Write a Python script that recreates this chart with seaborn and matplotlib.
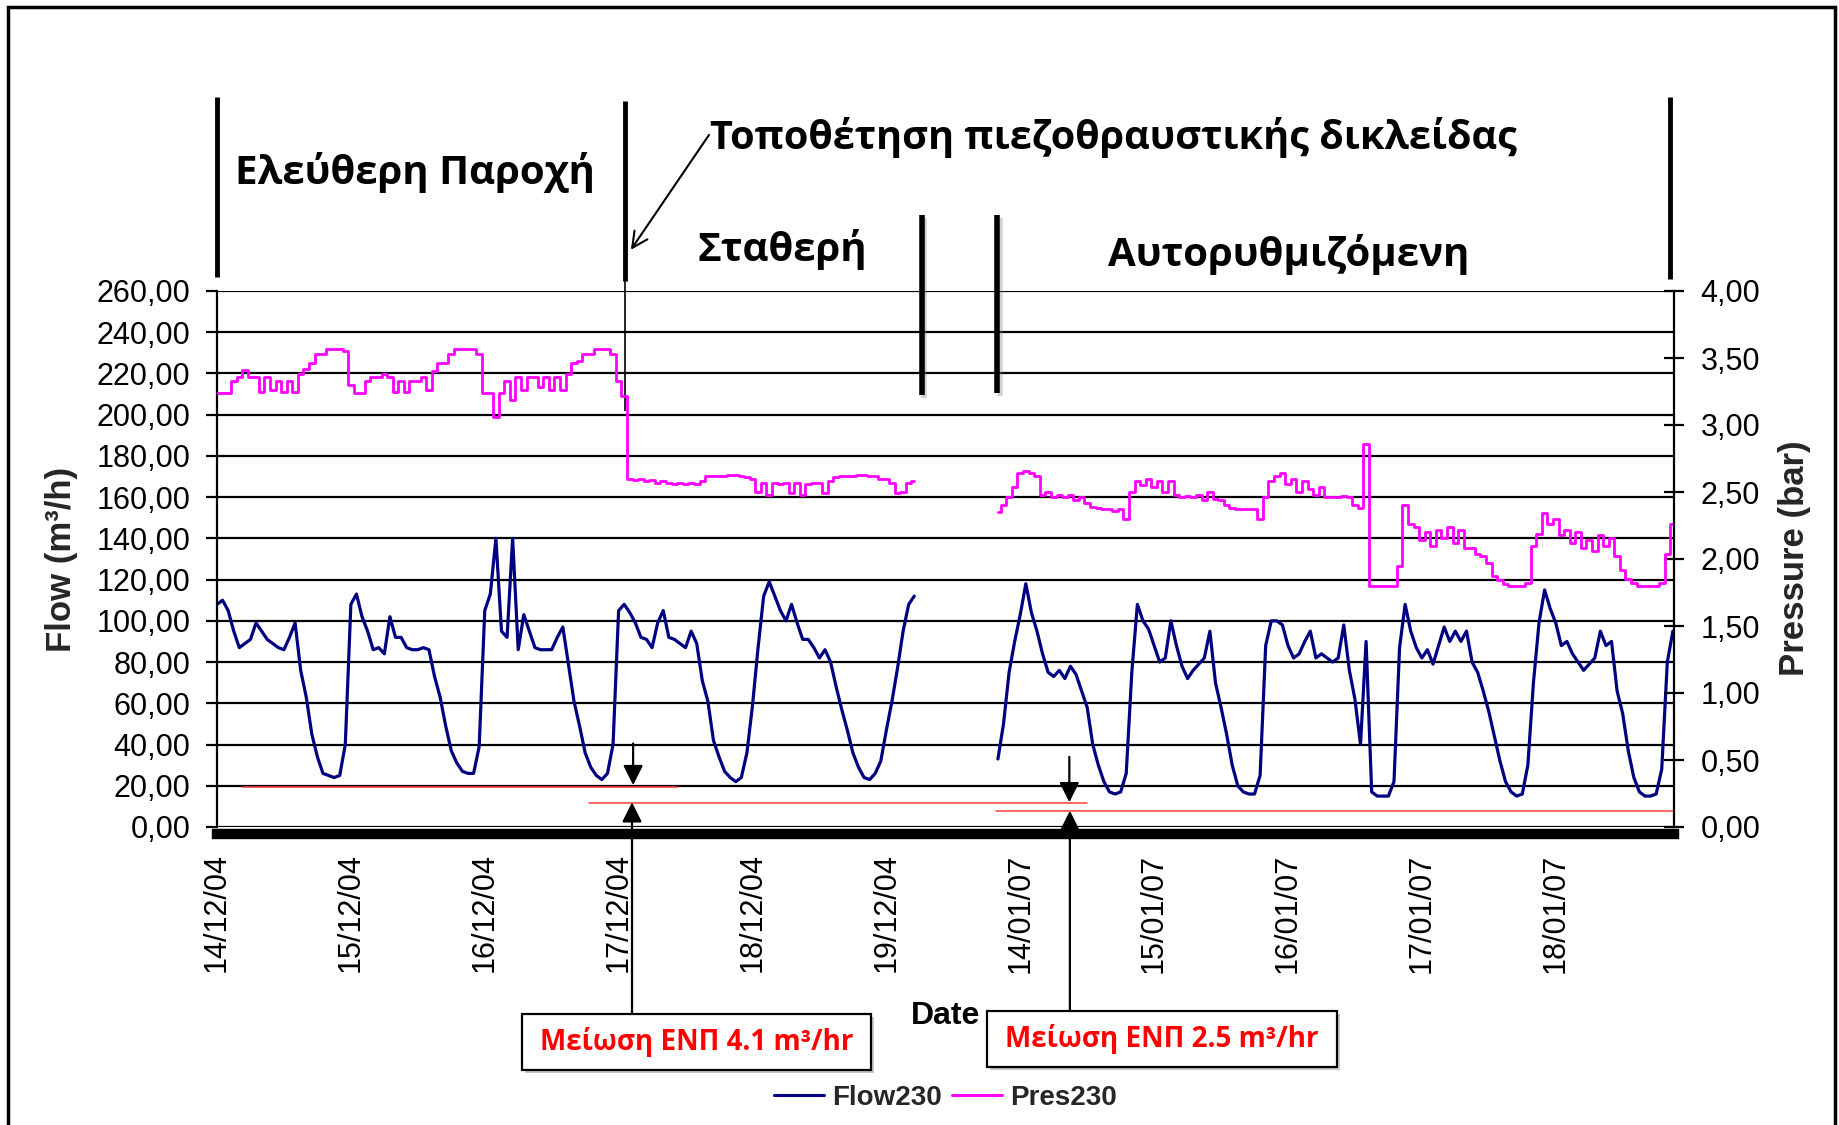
import matplotlib
matplotlib.use("Agg")
import matplotlib.pyplot as plt
import matplotlib.patheffects as pe
from matplotlib.patches import Rectangle
from matplotlib.lines import Line2D
import numpy as np
import pandas as pd
import seaborn as sns

# ---------------- data (hourly readings) ----------------
date_labels = ["14/12/04", "15/12/04", "16/12/04", "17/12/04", "18/12/04", "19/12/04",
               "14/01/07", "15/01/07", "16/01/07", "17/01/07", "18/01/07"]
date_tick_hours = [0, 24, 48, 72, 96, 120, 144, 168, 192, 216, 240]

dec_start_hour = 0
jan_start_hour = 140

flow_dec = [108, 110, 105, 95, 87, 89, 91, 99, 95, 91, 89, 87, 86, 92, 99, 76, 63, 45, 34, 26, 25, 24, 25, 40,
            108, 113, 102, 95, 86, 87, 84, 102, 92, 92, 87, 86, 86, 87, 86, 73, 63, 49, 37, 31, 27, 26, 26, 39,
            105, 113, 140, 95, 92, 140, 86, 103, 95, 87, 86, 86, 86, 92, 97, 79, 61, 49, 36, 29, 25, 23, 26, 40,
            105, 108, 104, 99, 92, 91, 87, 99, 105, 92, 91, 89, 87, 95, 89, 71, 61, 42, 34, 27, 24, 22, 24, 36,
            59, 87, 112, 119, 112, 105, 100, 108, 99, 91, 91, 87, 82, 86, 80, 68, 57, 47, 36, 29, 24, 23, 26, 32,
            47, 61, 77, 95, 108, 112]

pres_dec = [3.24, 3.24, 3.24, 3.33, 3.36, 3.41, 3.36, 3.36, 3.25, 3.36, 3.26, 3.33, 3.25, 3.33, 3.25, 3.38,
            3.42, 3.46, 3.53, 3.53, 3.57, 3.57, 3.57, 3.55,
            3.30, 3.24, 3.24, 3.33, 3.36, 3.36, 3.38, 3.36, 3.25, 3.33, 3.25, 3.33, 3.33, 3.36, 3.26, 3.40,
            3.46, 3.46, 3.53, 3.57, 3.57, 3.57, 3.57, 3.53,
            3.24, 3.24, 3.06, 3.24, 3.33, 3.19, 3.36, 3.26, 3.36, 3.36, 3.28, 3.36, 3.26, 3.36, 3.26, 3.38,
            3.46, 3.48, 3.53, 3.53, 3.57, 3.57, 3.57, 3.53,
            3.33, 3.22, 2.60, 2.59, 2.60, 2.58, 2.59, 2.57, 2.58, 2.57, 2.56, 2.57, 2.56, 2.57, 2.56, 2.58,
            2.62, 2.62, 2.62, 2.62, 2.63, 2.63, 2.62, 2.61,
            2.60, 2.50, 2.57, 2.48, 2.57, 2.56, 2.57, 2.49, 2.57, 2.48, 2.56, 2.57, 2.57, 2.49, 2.58, 2.61,
            2.62, 2.62, 2.62, 2.63, 2.63, 2.62, 2.62, 2.60,
            2.60, 2.57, 2.49, 2.50, 2.57, 2.58]

flow_jan = [33, 50, 75, 90, 103, 118, 104, 95, 84, 75, 73, 76, 72, 78, 74, 66, 58, 40, 30, 22, 17, 16, 17, 26,
            75, 108, 100, 96, 88, 80, 82, 100, 88, 78, 72, 76, 79, 82, 95, 70, 58, 45, 30, 20, 17, 16, 16, 25,
            88, 100, 100, 98, 88, 82, 84, 90, 95, 82, 84, 82, 80, 82, 98, 76, 62, 40, 90, 17, 15, 15, 15, 22,
            87, 108, 95, 87, 82, 86, 79, 88, 97, 90, 95, 90, 95, 80, 75, 66, 56, 44, 32, 22, 17, 15, 16, 30,
            70, 99, 115, 106, 99, 88, 90, 84, 80, 76, 79, 82, 95, 88, 90, 66, 55, 37, 24, 17, 15, 15, 16, 28,
            80, 95]

pres_jan = [2.35, 2.40, 2.46, 2.54, 2.64, 2.66, 2.64, 2.62, 2.48, 2.50, 2.46, 2.48, 2.46, 2.48, 2.44, 2.46,
            2.42, 2.39, 2.38, 2.37, 2.37, 2.36, 2.37, 2.30,
            2.50, 2.58, 2.55, 2.60, 2.54, 2.58, 2.50, 2.58, 2.48, 2.46, 2.47, 2.46, 2.48, 2.44, 2.50, 2.45,
            2.44, 2.40, 2.38, 2.37, 2.37, 2.37, 2.37, 2.30,
            2.46, 2.58, 2.62, 2.64, 2.56, 2.60, 2.50, 2.58, 2.52, 2.48, 2.54, 2.46, 2.46, 2.46, 2.47, 2.46,
            2.40, 2.38, 2.86, 1.80, 1.80, 1.80, 1.80, 1.80,
            1.95, 2.40, 2.26, 2.24, 2.14, 2.20, 2.10, 2.22, 2.16, 2.24, 2.12, 2.22, 2.08, 2.08, 2.04, 2.02,
            1.97, 1.87, 1.84, 1.81, 1.80, 1.80, 1.80, 1.82,
            2.10, 2.19, 2.34, 2.26, 2.30, 2.18, 2.22, 2.12, 2.20, 2.08, 2.14, 2.06, 2.18, 2.10, 2.16, 2.02,
            1.92, 1.85, 1.82, 1.80, 1.80, 1.80, 1.80, 1.82,
            2.04, 2.26]

flow_ticks = list(range(0, 261, 20))
pres_ticks = [0.0, 0.5, 1.0, 1.5, 2.0, 2.5, 3.0, 3.5, 4.0]

# reference (ΕΝΠ) levels: start hour, end hour, flow level
red_line_start = [4.4, 66.6, 139.7]
red_line_end = [82.7, 155.9, 261.2]
red_line_level = [19.5, 11.7, 7.7]

x_max_hour = 261.2

# ---------------- build tables ----------------
dec = pd.DataFrame({"hour": np.arange(len(flow_dec)) + dec_start_hour,
                    "flow": flow_dec, "pres": pres_dec})
jan = pd.DataFrame({"hour": np.arange(len(flow_jan)) + jan_start_hour,
                    "flow": flow_jan, "pres": pres_jan})

sns.set_style("white")
plt.rcParams["font.family"] = ["Liberation Sans", "DejaVu Sans"]
greek_font = ["Open Sans", "DejaVu Sans"]

W, H = 1839, 1125
fig = plt.figure(figsize=(W / 100, H / 100), dpi=100)
ax = fig.add_axes([217 / W, 1 - 827 / H, (1674 - 217) / W, (827 - 291) / H])
ax2 = ax.twinx()

navy = "#000080"
magenta = "#FF00FF"

for seg in (dec, jan):
    sns.lineplot(data=seg, x="hour", y="flow", ax=ax, color=navy, linewidth=2.3,
                 estimator=None, sort=False, legend=False)
    sns.lineplot(data=seg, x="hour", y="pres", ax=ax2, color=magenta, linewidth=2.0,
                 estimator=None, sort=False, legend=False, drawstyle="steps-mid")

# red reference lines
for x0, x1, lv in zip(red_line_start, red_line_end, red_line_level):
    ax.plot([x0, x1], [lv, lv], color="#FF3B3B", linewidth=1.1, clip_on=False, zorder=3)

# ---------------- axes styling ----------------
ax.set_xlim(0, x_max_hour)
ax.set_ylim(0, 260)
ax2.set_ylim(0, 4)
ax.set_yticks(flow_ticks)
ax.set_yticklabels([f"{v:.2f}".replace(".", ",") for v in flow_ticks])
ax2.set_yticks(pres_ticks)
ax2.set_yticklabels([f"{v:.2f}".replace(".", ",") for v in pres_ticks])
ax.set_xticks(date_tick_hours)
ax.set_xticklabels(date_labels)

ax.grid(axis="y", color="black", linewidth=1.6)
ax.grid(axis="x", visible=False)
ax.set_axisbelow(True)
ax2.grid(False)

for s in ("top", "right"):
    ax.spines[s].set_visible(False)
ax.spines["left"].set_color("black")
ax.spines["left"].set_linewidth(1.6)
ax.spines["bottom"].set_color("black")
ax.spines["bottom"].set_linewidth(7.5)
ax.spines["bottom"].set_position(("outward", 5))
for s in ("top", "left", "bottom"):
    ax2.spines[s].set_visible(False)
ax2.spines["right"].set_color("black")
ax2.spines["right"].set_linewidth(1.6)

ax.tick_params(axis="y", direction="out", length=8, width=1.6, pad=11, labelsize=22,
               colors="black", left=True)
ax2.tick_params(axis="y", direction="inout", length=14, width=1.6, pad=12, labelsize=22,
                colors="black", right=True)
ax.tick_params(axis="x", length=0, pad=14, labelsize=22, colors="black", labelrotation=90)

ax.set_xlabel("Date", fontsize=23, fontweight="bold", color="black")
ax.xaxis.set_label_coords(0.5, -0.325)
ax.set_ylabel("")
ax2.set_ylabel("")
ax.text(-0.107, 0.5, "Flow (m³/h)", transform=ax.transAxes, rotation=90,
        ha="center", va="center", fontsize=25, fontweight="bold")
ax.text(1.0824, 0.502, "Pressure (bar)", transform=ax.transAxes, rotation=90,
        ha="center", va="center", fontsize=25, fontweight="bold")

# ---------------- annotations ----------------
shadow = [pe.SimpleLineShadow(offset=(2, -2), alpha=0.35, shadow_color="gray"), pe.Normal()]
ax.plot([0, 0], [354, 267], color="black", lw=3.5, clip_on=False, solid_capstyle="butt")
ax.plot([73.1, 73.1], [352, 265], color="black", lw=3.5, clip_on=False, solid_capstyle="butt")
ax.plot([73.1, 73.1], [265, 202], color="black", lw=1.2, clip_on=False, solid_capstyle="butt")
ax.plot([126.3, 126.3], [297, 209.5], color="black", lw=4, clip_on=False,
        solid_capstyle="butt", path_effects=shadow)
ax.plot([139.8, 139.8], [297, 210.3], color="black", lw=4, clip_on=False,
        solid_capstyle="butt", path_effects=shadow)
ax.plot([260.5, 260.5], [354, 266], color="black", lw=3.5, clip_on=False, solid_capstyle="butt")

heading = dict(transform=ax.transAxes, ha="center", va="center",
               fontweight="bold", family=greek_font, color="black")
ax.text(0.1359, 1.222, "Ελεύθερη Παροχή", fontsize=29, **heading)
ax.text(0.615, 1.287, "Τοποθέτηση πιεζοθραυστικής δικλείδας", fontsize=28.5, **heading)
ax.text(0.3878, 1.0765, "Σταθερή", fontsize=29, **heading)
ax.text(0.7357, 1.068, "Αυτορυθμιζόμενη", fontsize=29, **heading)

ax.annotate("", xy=(74.2, 280), xytext=(88.2, 335.7), annotation_clip=False,
            arrowprops=dict(arrowstyle="->", color="black", lw=1.5, mutation_scale=28,
                            shrinkA=0, shrinkB=0))

solid_arrow = dict(arrowstyle="-|>", color="black", lw=1.6, mutation_scale=30,
                   shrinkA=0, shrinkB=0)
ax.annotate("", xy=(74.6, 20.3), xytext=(74.6, 40.5), arrowprops=solid_arrow,
            annotation_clip=False)
ax.annotate("", xy=(74.4, 12.0), xytext=(74.4, -0.349),
            textcoords=("data", "axes fraction"), arrowprops=solid_arrow,
            annotation_clip=False)
ax.annotate("", xy=(152.8, 12.0), xytext=(152.8, 34.0), arrowprops=solid_arrow,
            annotation_clip=False)
ax.annotate("", xy=(152.9, 7.9), xytext=(152.9, -0.343),
            textcoords=("data", "axes fraction"), arrowprops=solid_arrow,
            annotation_clip=False)

box_shadow = [pe.withSimplePatchShadow(offset=(2, -2), alpha=0.3)]
for (bx, by, bw, bh), label in [((0.2093, -0.4534, 0.2396, 0.1045), "Μείωση ΕΝΠ 4.1 m³/hr"),
                                 ((0.5285, -0.4478, 0.2402, 0.1045), "Μείωση ΕΝΠ 2.5 m³/hr")]:
    ax.add_patch(Rectangle((bx, by), bw, bh, transform=ax.transAxes, facecolor="white",
                           edgecolor="black", lw=1.6, clip_on=False, zorder=4,
                           path_effects=box_shadow))
    ax.text(bx + bw / 2, by + bh / 2, label, transform=ax.transAxes, ha="center", va="center",
            fontsize=20, fontweight="bold", color="#FF0000", family=greek_font, zorder=5)

handles = [Line2D([0], [0], color=navy, lw=2.2), Line2D([0], [0], color=magenta, lw=2.2)]
ax2.legend(handles, ["Flow230", "Pres230"], loc="center", bbox_to_anchor=(0.5, -0.506),
           bbox_transform=ax.transAxes, ncol=2, frameon=False,
           prop={"weight": "bold", "size": 20}, handlelength=1.8, handletextpad=0.3,
           columnspacing=0.35)

# figure frame
fig.patches.append(Rectangle((8 / W, -0.05), (1835 - 8) / W, 1.05 - 7 / H,
                             transform=fig.transFigure, fill=False, edgecolor="black",
                             lw=2.5, zorder=10))

fig.savefig("out.png", dpi=100)
